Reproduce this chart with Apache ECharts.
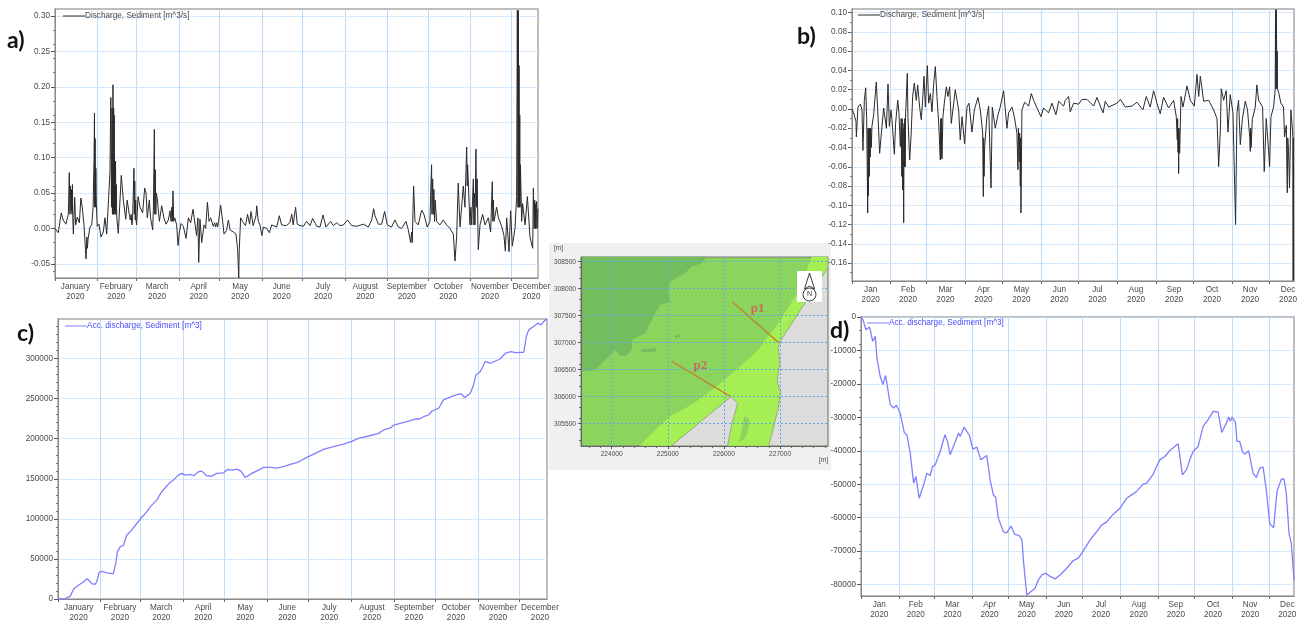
<!DOCTYPE html>
<html><head><meta charset="utf-8">
<style>html,body{margin:0;padding:0;background:#fff}#c{width:1301px;height:623px}</style>
<script src="https://cdn.jsdelivr.net/npm/echarts@6/dist/echarts.min.js"></script>
</head><body><div id="c"></div>
<script>
// ---- time scale: day of year 2020 ----
const monthStarts = [0,31,60,91,121,152,182,213,244,274,305,335];
const monthMids   = [15,45,75,105.5,136,166.5,197,228,258.5,289,319.5,350];
const monthsLong  = ['January','February','March','April','May','June','July','August','September','October','November','December'];
const monthsShort = ['Jan','Feb','Mar','Apr','May','Jun','Jul','Aug','Sep','Oct','Nov','Dec'];
const yearLabel = '2020';

// ---- y tick labels ----
const ticksA = [-0.05,0,0.05,0.10,0.15,0.20,0.25,0.30];
const ticksB = [-0.16,-0.14,-0.12,-0.10,-0.08,-0.06,-0.04,-0.02,0,0.02,0.04,0.06,0.08,0.10];
const ticksC = [0,50000,100000,150000,200000,250000,300000];
const ticksD = [-80000,-70000,-60000,-50000,-40000,-30000,-20000,-10000,0];

// ---- a) discharge at p1 [day, m3/s] ----
const dischargeA = [[0,0],[2.4,-.006],[3.7,-.004],[4.6,.022],[6,.012],[8,.006],[9.8,.02],[10.5,.079],[11,.02],[11.3,.06],[11.8,.025],[12,.055],[12.5,.02],[12.8,.062],[13.1,.012],[13.5,-.008],[14.5,.044],[15.2,.005],[16.4,.016],[17.9,.008],[19,.043],[20,.03],[21.3,.005],[22.8,-.043],[23.4,-.012],[23.8,-.028],[24.3,-.015],[25.7,.002],[27,.005],[28,.03],[28.7,.1],[29,.163],[29.2,.03],[29.5,.127],[29.7,.03],[30,.085],[30.4,.035],[31,.003],[32.3,.006],[33.8,-.012],[35.5,-.005],[36.7,.015],[38,-.008],[39,-.01],[40.4,.08],[41,.185],[41.5,.03],[41.9,.17],[42.2,.02],[42.6,.203],[42.9,.02],[43.1,.17],[43.3,.02],[43.5,.16],[43.8,.025],[44,.095],[44.2,.02],[44.5,.095],[44.7,.02],[45,.062],[45.4,.015],[46.5,-.007],[47.5,.03],[48.7,.075],[50.2,.04],[52,.013],[53,.04],[54.6,.02],[55.3,.012],[56,.02],[56.5,.005],[57,.012],[58,.085],[58.3,.02],[58.6,.067],[59,.012],[59.3,.04],[59.6,.01],[60,.005],[61,.045],[62.5,.03],[64.4,.022],[65.9,.057],[66.9,.05],[67.8,.015],[69.3,.04],[70.2,.015],[71.8,-.002],[72.3,.03],[73,.14],[73.3,.02],[73.7,.083],[74.1,.02],[74.4,.05],[75.2,.042],[76.7,.01],[78.4,.032],[80,.015],[81.6,.006],[83.3,.012],[84.5,.025],[85.3,.01],[85.8,.03],[86.2,.01],[86.7,.053],[87.2,.01],[88,.015],[89.4,.005],[90.4,-.024],[91.4,-.005],[92.6,.007],[94.3,.003],[96.3,-.014],[98,.015],[99.7,.008],[101.4,.027],[103,.005],[104,-.01],[105,.015],[105.6,-.048],[106.5,.013],[107.8,-.02],[109.5,.005],[110.7,0],[112,.037],[113.2,.01],[114.4,.015],[116.3,.003],[117.3,.008],[118,.002],[118.8,.008],[119.5,.002],[120.2,.01],[121.7,.033],[123.2,.01],[124.2,-.008],[126,-.003],[127.4,.012],[128.6,-.002],[131,-.005],[133,-.008],[134.2,-.03],[135,-.07],[135.4,-.03],[136.4,.015],[138.4,.008],[140,.004],[141.5,.02],[143,.006],[144,.024],[145.6,.004],[147.7,.018],[148.2,.032],[149.4,.01],[150.6,.005],[152,-.01],[153.1,.002],[155.5,0],[157.5,-.006],[159.2,.005],[162.9,.002],[164.8,.018],[166.5,.005],[170,.004],[172.5,.008],[174,.02],[175,.005],[176.8,.03],[178,.006],[180,.004]];
const dischargeA2 = [[182.5,.003],[184.9,.01],[187.4,.004],[189.3,.014],[192.3,.003],[194.7,.002],[196.9,.019],[199.1,.002],[202.6,.01],[204.5,.004],[207,.008],[209.4,.004],[211.9,.005],[215,.012],[218,.004],[221.7,.003],[226.6,.006],[230.2,.002],[232.7,.012],[234.1,.028],[235.1,.018],[237.6,.006],[240,.006],[242.2,.024],[244.2,.005],[247.3,.002],[249.8,.012],[252.2,.002],[254.7,0],[257.9,.01],[259.6,-.002],[261.3,-.02],[262,-.005],[262.5,-.02],[263.5,.06],[264.5,.01],[266.9,.005],[269.4,.026],[271.1,.02],[273.5,.002],[275.5,.01],[276.2,.06],[276.7,.09],[277,.02],[277.5,.07],[278,.02],[278.4,.055],[278.9,.01],[279.4,.04],[280.4,.01],[282.8,.005],[285.3,.012],[287.7,.005],[290.2,0],[292.7,-.008],[293.9,-.046],[295.1,-.012],[296.3,.064],[297.6,.002],[300,.06],[301.2,.03],[302.5,.115],[302.9,.06],[303.2,.09],[304.9,.005],[305.6,.03],[306.2,.005],[306.8,.04],[307.4,.07],[307.8,.005],[308.2,.05],[308.6,.005],[309.3,.112],[309.8,.03],[310.2,.07],[311,-.03],[312.3,.005],[314.2,.02],[316,.005],[318.4,.015],[320.1,-.005],[321.3,.066],[321.7,.01],[322.1,.04],[322.6,.01],[324.5,.03],[325.8,.015],[328.2,.003],[329.9,-.01],[330.9,-.032],[331.9,.015],[333.6,-.033],[334.8,.025],[336,-.025],[338,0],[339.2,.045],[339.7,.308],[340.2,.03],[340.5,.308],[340.7,.03],[341,.23],[341.2,.03],[341.5,.16],[341.7,.03],[342,.09],[342.9,.01],[343.6,.035],[345.4,.005],[347.1,.045],[349,-.012],[351,-.028],[351.5,.057],[352.1,0],[352.5,.04],[352.7,0],[353,.035],[353.3,0],[353.9,.038],[354.2,0],[354.9,.028]];

// ---- b) discharge at p2 [day, m3/s] ----
const dischargeB = [[0,0],[1.3,-.004],[3.2,-.013],[3.5,-.029],[4.8,.002],[6.7,.005],[8,-.001],[8.8,-.043],[9.9,.009],[11,.022],[11.8,-.01],[12.6,-.108],[12.9,-.02],[13.2,-.09],[13.5,-.02],[13.9,-.07],[14.2,-.02],[14.6,-.05],[15,-.02],[15.5,-.04],[16,-.018],[17.4,-.006],[19.5,.028],[20.9,-.008],[22.2,-.046],[23.3,-.029],[25.4,.001],[27.6,-.02],[28.9,.026],[30,-.018],[31.3,-.001],[32.1,-.011],[34,-.047],[35,-.015],[36.7,.009],[37.7,-.004],[38.8,-.039],[39.5,-.01],[40,-.07],[40.3,-.01],[40.7,-.084],[41,-.02],[41.5,-.118],[41.8,-.015],[42.1,-.06],[42.4,-.01],[42.7,-.06],[43,-.005],[43.3,.002],[44.4,.037],[44.9,-.008],[46.3,-.053],[47.4,-.028],[48.7,.013],[50,.027],[51.6,.009],[52.7,.025],[54.3,.002],[55.6,-.011],[56.7,.009],[57.8,.034],[58.9,.002],[60.5,.045],[61.5,.006],[62.9,.016],[64.2,-.003],[65.5,.025],[66.9,.044],[68.2,.013],[69.6,-.015],[70.9,-.053],[71.2,-.01],[71.6,-.05],[71.9,-.01],[72.2,-.052],[73,-.008],[74.1,.006],[75.7,.023],[77,.013],[78.4,.023],[79.7,-.015],[81,-.001],[82.9,.02],[84.3,.009],[85.6,-.001],[86.9,-.032],[88.3,-.008],[90.4,-.036],[92.3,.002],[93.9,.006],[96.3,-.024],[98.2,-.001],[101.1,.012],[103,-.001],[104.9,-.025],[105.4,-.091],[105.7,-.03],[106,-.07],[106.5,-.039],[108.3,-.008],[109.7,.003],[111.6,-.082],[112.6,.002],[115,-.02],[117.2,-.006],[119,.002],[121.7,.019],[124.4,-.02],[125.7,-.004],[128.4,.002],[130.3,-.008],[132.4,-.025],[133.2,-.063],[133.6,-.02],[134.2,-.055],[134.6,-.025],[135.1,-.08],[135.4,-.03],[135.6,-.108],[136.4,-.001],[138.6,.007],[141.8,.003],[143.9,.016],[145.8,.009],[148.5,.001],[151.7,-.008],[153.8,.001],[157.8,-.004]];
const dischargeB2 = [[158.6,-.006],[160.5,.006],[163.7,-.006],[165.9,.008],[169.9,.003],[171.2,.009],[173.9,.013],[175.2,-.003],[177.9,.006],[181.9,.005],[184.6,.01],[188.6,.01],[194,.003],[196.6,.012],[201.5,-.004],[203.3,.008],[206,.002],[212.7,.006],[215.4,.01],[219.4,.002],[224.7,.003],[228.7,.007],[233.5,-.001],[236.2,.013],[239.4,.002],[242.1,.019],[244.8,.006],[247.4,-.005],[250.1,.012],[254.1,.001],[258.2,.009],[260.3,-.008],[261.1,-.032],[261.4,-.01],[261.7,-.045],[262,-.02],[262.2,-.067],[262.5,-.02],[263,-.046],[264.1,.013],[265.7,.002],[268.9,.024],[271.6,.009],[274.8,.003],[276.9,.036],[278.3,.013],[279.6,.034],[282.3,.008],[286.3,.009],[290.3,-.001],[293,-.01],[294.3,-.06],[295.7,-.022],[296.4,.021],[298.3,.009],[300.4,.019],[301.8,-.024],[303.6,.015],[305.8,-.004],[307.9,-.12],[309,-.004],[310.3,.009],[311.7,-.037],[313.3,-.011],[315.7,.008],[317.5,-.001],[319.3,-.03],[319.7,-.044],[320,-.02],[320.4,-.04],[321.3,-.011],[323.7,.002],[325,.025],[326.4,.009],[329.6,.002],[330.9,-.065],[332.5,-.01],[334.4,-.043],[335.2,-.06],[336.3,-.008],[338.4,.002],[339.7,.02],[340,.103],[340.3,.021],[340.5,.103],[340.8,.072],[341.1,.021],[341.3,.06],[341.5,.021],[342.7,.016],[344.3,.006],[346.4,.002],[347.2,-.029],[348.6,-.017],[349.4,-.087],[349.8,-.03],[350.4,-.043],[351.2,-.082],[352.3,-.001],[353.6,-.022],[353.9,-.03],[354.1,-.178],[354.3,-.03],[354.5,-.178],[354.8,-.178]];

// ---- c) accumulated discharge at p1 [day, m3] ----
const accumC = [[0,0],[5.1,400],[8.7,3300],[11.6,13000],[14.8,17100],[18.4,21300],[21.3,25500],[24.5,19200],[26.9,18300],[28.1,21300],[29.8,32900],[31.7,34600],[35.4,32500],[40.2,31700],[41.9,44200],[43.1,58800],[45.1,65000],[47.5,67100],[49.9,79600],[53.5,85900],[57.2,94200],[60.1,100400],[64.4,108800],[66.9,115000],[71.7,123400],[75.3,133800],[80.2,143400],[83.8,148400],[87.5,154600],[89.9,156700],[92.3,154600],[95.9,155400],[98.4,153800],[102,158800],[104.4,159600],[108,153800],[111.7,153400],[115.3,156700],[120.2,157500],[123.1,161700],[126.2,160900],[129.8,162100],[132.8,159600],[135.9,151700],[140.7,156700],[145.6,160900],[149.2,164200],[154.1,164200],[158.9,163400],[163.8,165100],[168.6,168000],[173.4,170100],[175.9,172200],[180.7,176700],[186.8,181700],[192.8,186700],[200.1,190000],[207.4,193400],[213.2,196700],[218.3,200400],[225.5,203400],[232.8,206700],[236.4,210900],[241.3,213400],[243.9,217100],[248.5,219200],[253.4,221300],[259.4,224600],[262.6,224600],[265.5,227500],[269.1,229600],[271.6,234600],[276.4,238000],[280,248400],[283.7,251300],[289.7,255000],[292.9,255900],[295.3,251300],[299.4,256700],[301.8,267100],[303.5,279600],[306.7,283800],[310.3,296300],[313.9,294200],[320.7,299200],[324.9,306700],[329,308800],[332.1,307500],[338.2,307900],[340.1,327500],[341.8,335800],[345.4,340000],[348.4,344200],[350.8,342100],[353.4,347500],[355.1,349200]];

// ---- d) accumulated discharge at p2 [day, m3] ----
const accumD = [[0,0],[1.6,-800],[4.1,-3800],[7.1,-3000],[9.6,-7300],[11.7,-5800],[13.1,-12300],[15.8,-17800],[18,-20200],[20.2,-17500],[21.9,-21300],[24,-26200],[26.8,-27200],[29,-26400],[32.2,-28700],[35.5,-34500],[37.7,-35200],[40.4,-40700],[43.2,-49700],[45.1,-47700],[47.8,-54200],[51.4,-50200],[54.1,-46700],[56.8,-47400],[58.7,-44700],[60.9,-44200],[65,-40200],[68.9,-35200],[71,-37200],[73.2,-41200],[74.6,-41200],[80.1,-34700],[81.4,-35700],[84.7,-32900],[89.1,-35500],[91.8,-39500],[95.1,-38900],[98.4,-42700],[103.3,-41400],[106,-48700],[108.7,-53200],[110.4,-53700],[112.8,-60200],[116.9,-64200],[119.7,-64500],[123.2,-62500],[126,-64900],[130.1,-65400],[132.2,-66700],[133.3,-72600],[136.1,-83100],[142.9,-81100],[145.6,-78600],[148.9,-76900],[151.9,-76600],[154.6,-77400],[159.3,-78300],[163.4,-77100],[168.9,-75100],[174.3,-72800],[178.4,-72100],[182.5,-69900],[188,-66700],[193.4,-64200],[197.5,-62200],[201.6,-61300],[205.7,-59500],[212.6,-57200],[218,-54200],[226.2,-52200],[231.7,-49900],[234.4,-49700],[239.9,-47000],[242.6,-44700],[245.4,-42700],[249.5,-41700],[253.6,-39900],[260.4,-37900],[263.9,-47200],[267.2,-45700],[269.9,-42700],[272.7,-40200],[276.8,-38700],[280.9,-32700],[285,-30700],[289.1,-28200],[293.2,-28400],[296.2,-34500],[300,-31700],[301.9,-29900],[303.3,-31200],[304.6,-29900],[307.4,-31500],[308.7,-37200],[310.9,-37200],[313.1,-40200],[315,-41000],[318.3,-40000],[321.9,-46700],[324.6,-48000],[327.3,-45200],[330.1,-44900],[332.8,-51700],[335.5,-61700],[338.8,-63000],[341.5,-52200],[345.1,-48500],[347.3,-48400],[349.2,-52700],[351.4,-64700],[353.3,-67700],[355.5,-78600]];

// ---- map (metres) ----
const mapX = [224000,225000,226000,227000];
const mapY = [305500,306000,306500,307000,307500,308000,308500];
const zoneDeep = [[223454,308593],[225703,308593],[225602,308469],[225424,308407],[225306,308284],[225039,308130],[225009,308006],[225039,307759],[224861,307697],[224772,307543],[224594,307173],[224356,307049],[224368,306895],[224267,306759],[224148,306759],[224059,306864],[223703,306494],[223454,306463]];
const zoneDeep2 = [[224504,306864],[224801,306907],[224772,306833],[224564,306821]];
const zoneDeep3 = [[225116,307123],[225217,307160],[225217,307111],[225140,307086]];
const zoneShallow = [[224504,305093],[224772,305383],[225068,305660],[225424,305846],[225899,306216],[226077,306370],[226611,306864],[226760,307080],[226968,307358],[227324,307944],[227561,308593],[227846,308593],[227846,305093]];
const zoneMidBlob = [[226315,305352],[226362,305630],[226445,305599],[226445,305414],[226374,305228],[226267,305136]];
const landEast = [[227846,308377],[226997,307018],[226968,306895],[226997,306648],[226950,306278],[227009,306093],[226968,305784],[226801,305093],[227846,305093]];
const landMid = [[225068,305093],[226125,306000],[226243,305876],[226137,305475],[226065,305093]];
const sectionP1 = [[226148,307759],[226968,307006]];
const sectionP2 = [[225068,306660],[226113,306006]];
const sectionLabels = [['p1',226600,307636],['p2',225579,306568]];

const legendDis = 'Discharge, Sediment [m^3/s]';
const legendAcc = 'Acc. discharge, Sediment [m^3]';

const FONT = '"Liberation Sans",Arial,sans-serif';
const GRID_H = '#bcdcfb', GRID_V = '#bcdcfb', TXT = '#4a4a4a', FS = 8.2;

function timeAxis(gi, names, max){
  return {type:'value',gridIndex:gi,min:0,max:max,
    axisLine:{show:true,onZero:false,lineStyle:{color:'#8a8a8a',width:1}},
    axisTick:{show:true,customValues:monthStarts,length:3,lineStyle:{color:'#666'}},
    axisLabel:{show:true,customValues:monthMids,margin:4,fontFamily:FONT,fontSize:FS,color:TXT,lineHeight:9.5,hideOverlap:false,showMinLabel:true,showMaxLabel:true,
      formatter:v=>names[monthMids.indexOf(v)]+'\n'+yearLabel},
    splitLine:{show:true,lineStyle:{color:GRID_V,width:1,type:'solid'}}};
}
function valAxis(gi,ticks,min,max,fmt){
  return {type:'value',gridIndex:gi,min:min,max:max,
    axisLine:{show:true,onZero:false,lineStyle:{color:'#8a8a8a',width:1}},
    axisTick:{show:true,customValues:ticks,length:4,lineStyle:{color:'#555'}},
    minorTick:{show:true,splitNumber:5,length:2,lineStyle:{color:'#777'}},
    axisLabel:{show:true,customValues:ticks,margin:5,fontFamily:FONT,fontSize:FS,color:TXT,hideOverlap:false,showMinLabel:true,showMaxLabel:true,formatter:fmt},
    splitLine:{show:true,lineStyle:{color:GRID_H,width:1,type:[1.5,1]}}};
}
const gridBase = {show:true,borderColor:'#a8a8a8',borderWidth:1.5,backgroundColor:'transparent',containLabel:false};
function lineSeries(name,data,gi,color,w){
  return {type:'line',name:name,xAxisIndex:gi,yAxisIndex:gi,data:data,showSymbol:false,symbol:'none',
    lineStyle:{color:color,width:w},itemStyle:{color:color},z:3,silent:true,animation:false};
}
function legendAt(name,left,top,color){
  return {data:[name],left:left,top:top,icon:'rect',itemWidth:22,itemHeight:1,padding:0,selectedMode:false,
    textStyle:{fontFamily:FONT,fontSize:FS,color:color,padding:[0,0,0,-5]}};
}
const shapes = [[zoneDeep,'#74bd5e'],[zoneDeep2,'#74bd5e'],[zoneDeep3,'#74bd5e'],[zoneShallow,'#a5ef55'],[zoneMidBlob,'#8bd55e'],[landEast,'#dcdcdc'],[landMid,'#dcdcdc']];
const mapAxisBase = {type:'value',gridIndex:4,z:4,
  axisLine:{onZero:false,lineStyle:{color:'#666'}},
  minorTick:{show:true,splitNumber:5,length:2,lineStyle:{color:'#666'}},
  splitLine:{show:true,lineStyle:{color:'#5fa8e6',width:1,type:[2,2]}}};
function mapAxisLabel(vals){return {customValues:vals,fontFamily:FONT,fontSize:6.6,color:TXT,margin:5,hideOverlap:false,showMinLabel:true,showMaxLabel:true,formatter:v=>String(v)};}

const option = {
  animation:false,backgroundColor:'#fff',
  textStyle:{fontFamily:FONT},
  grid:[
    Object.assign({left:55,top:9,width:483,height:269},gridBase),
    Object.assign({left:852,top:9,width:442,height:272},gridBase),
    Object.assign({left:58,top:319,width:489,height:280},gridBase),
    Object.assign({left:861,top:317,width:433,height:279},gridBase),
    {show:true,left:581,top:257,width:247,height:189,borderColor:'#777',borderWidth:1,backgroundColor:'#8bd55e'}
  ],
  xAxis:[
    timeAxis(0,monthsLong,354.9),
    timeAxis(1,monthsShort,354.8),
    timeAxis(2,monthsLong,355.1),
    timeAxis(3,monthsShort,355.5),
    Object.assign({},mapAxisBase,{min:223454,max:227854,axisTick:{customValues:mapX,length:3,lineStyle:{color:'#555'}},axisLabel:mapAxisLabel(mapX)})
  ],
  yAxis:[
    valAxis(0,ticksA,-0.07,0.31,v=>v.toFixed(2)),
    valAxis(1,ticksB,-0.1786,0.1038,v=>v.toFixed(2)),
    valAxis(2,ticksC,0,349400,v=>String(v)),
    valAxis(3,ticksD,-83400,0,v=>String(v)),
    Object.assign({},mapAxisBase,{min:305087,max:308587,axisTick:{customValues:mapY,length:3,lineStyle:{color:'#555'}},axisLabel:mapAxisLabel(mapY)})
  ],
  legend:[
    legendAt(legendDis,63,12,TXT),
    legendAt(legendDis,858,11,TXT),
    legendAt(legendAcc,65,322,'#4a4aff'),
    legendAt(legendAcc,867,319,'#4a4aff')
  ],
  series:[
    lineSeries(legendDis,dischargeA.concat(dischargeA2),0,'#2a2a2a',1),
    lineSeries(legendDis,dischargeB.concat(dischargeB2),1,'#2a2a2a',1),
    lineSeries(legendAcc,accumC,2,'#7f7fff',1.3),
    lineSeries(legendAcc,accumD,3,'#7f7fff',1.3),
    {type:'custom',xAxisIndex:4,yAxisIndex:4,z:1,silent:true,animation:false,data:shapes.map((s,i)=>[i]),
      renderItem:(p,api)=>{const s=shapes[api.value(0)];
        const isLand=s[1]==='#dcdcdc';
        return {type:'polygon',shape:{points:s[0].map(q=>api.coord(q))},style:{fill:s[1],stroke:isLand?'#8d9a80':null,lineWidth:isLand?0.8:0}};}},
    {type:'line',xAxisIndex:4,yAxisIndex:4,data:sectionP1,symbol:'none',lineStyle:{color:'#bb8a2a',width:1.4},z:6,silent:true},
    {type:'line',xAxisIndex:4,yAxisIndex:4,data:sectionP2,symbol:'none',lineStyle:{color:'#bb8a2a',width:1.4},z:6,silent:true},
    {type:'custom',xAxisIndex:4,yAxisIndex:4,z:7,silent:true,animation:false,data:sectionLabels.map((s,i)=>[i]),
      renderItem:(p,api)=>{const s=sectionLabels[api.value(0)];const c=api.coord([s[1],s[2]]);
        return {type:'text',style:{x:c[0],y:c[1],text:s[0],fill:'#c26f5c',font:'bold 13px "Liberation Serif",serif',textAlign:'center',textVerticalAlign:'middle'}};}}
  ],
  graphic:[
    {type:'rect',z:-1,silent:true,shape:{x:549,y:243,width:282,height:227},style:{fill:'#f0f0f0'}},
    {type:'text',z:100,silent:true,style:{x:554,y:245,text:'[m]',font:'6.6px "Liberation Sans"',fill:TXT}},
    {type:'text',z:100,silent:true,style:{x:819,y:457,text:'[m]',font:'6.6px "Liberation Sans"',fill:TXT}},
    {type:'text',z:100,silent:true,style:{x:7,y:29,text:'a)',font:'bold 23px Lato',fill:'#111'}},
    {type:'text',z:100,silent:true,style:{x:797,y:25,text:'b)',font:'bold 23px Lato',fill:'#111'}},
    {type:'text',z:100,silent:true,style:{x:17,y:322,text:'c)',font:'bold 23px Lato',fill:'#111'}},
    {type:'text',z:100,silent:true,style:{x:830,y:319,text:'d)',font:'bold 23px Lato',fill:'#111'}},
    {type:'rect',z:100,silent:true,shape:{x:797,y:271,width:25,height:31},style:{fill:'#fff'}},
    {type:'polygon',z:101,silent:true,shape:{points:[[809.5,273],[804.5,289],[809.5,286],[814.5,289]]},style:{fill:'#fff',stroke:'#222',lineWidth:0.9}},
    {type:'circle',z:101,silent:true,shape:{cx:809.5,cy:294.5,r:6.5},style:{fill:'#fff',stroke:'#222',lineWidth:0.9}},
    {type:'text',z:102,silent:true,style:{x:809.5,y:294.5,text:'N',font:'7px "Liberation Sans"',fill:'#333',textAlign:'center',textVerticalAlign:'middle'}}
  ]
};
echarts.init(document.getElementById('c'),null,{renderer:'canvas'}).setOption(option);
</script></body></html>
